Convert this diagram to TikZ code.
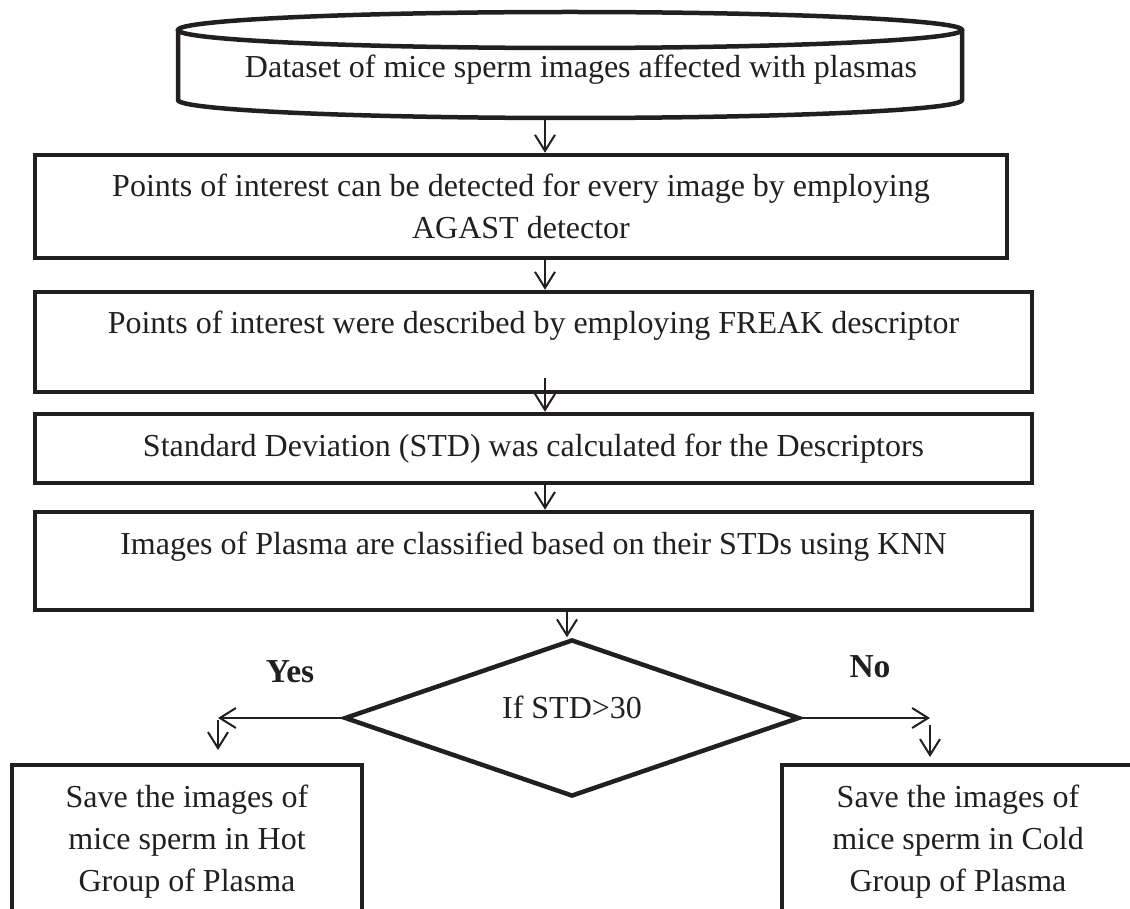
\documentclass[tikz,border=0pt]{standalone}
\usepackage{fontspec}
\setmainfont{Liberation Serif}
\usetikzlibrary{shapes.geometric, arrows.meta}
\definecolor{ink}{RGB}{35,31,32}
\tikzset{
	cyl/.style = {draw=ink, line width=4.5pt},
	box/.style = {draw=ink, line width=4.5pt, rectangle, inner sep=0pt, align=center, text=ink, font=\fontsize{32}{42}\selectfont},
	txt/.style = {inner sep=0pt, align=center, text=ink, font=\fontsize{32}{42}\selectfont},
	cond/.style = {draw=ink, line width=4.5pt, diamond, aspect=2.9, inner sep=0pt, text=ink, font=\fontsize{32}{42}\selectfont},
	lbl/.style = {inner sep=0pt, text=ink, font=\fontsize{33.5}{42}\selectfont\bfseries},
	flow/.style = {draw=ink, line width=2pt, -{Straight Barb[length=16pt, width=20pt]}}
}

\begin{document}
\begin{tikzpicture}[x=1pt, y=-1pt]
	\useasboundingbox (0,0) rectangle (1130,909);
	\clip (0,0) rectangle (1130,909);
	% ====== Dataset ========
	\pgfmathsetmacro{\cylx}{570}
	\pgfmathsetmacro{\cylrx}{392}
	\pgfmathsetmacro{\cylry}{18}
	\draw[cyl] (\cylx-\cylrx,30) -- (\cylx-\cylrx,100) arc[start angle=180, end angle=0, x radius=\cylrx, y radius=\cylry] -- (\cylx+\cylrx,30);
	\draw[cyl] (\cylx,30) ellipse[x radius=\cylrx, y radius=\cylry];
	\node[txt, minimum height=96] (data) at (581,70) {Dataset of mice sperm images affected with plasmas};

	% ====== Steps ========
	\node[box, minimum width=972, minimum height=103] (detect) at (521,206.5) {Points of interest can be detected for every image by employing\\ AGAST detector};
	\node[box, minimum width=997, minimum height=100, text height=25, text depth=41] (describe) at (533.5,342) {Points of interest were described by employing FREAK descriptor};
	\node[box, minimum width=997, minimum height=69] (std) at (533.5,448.5) {Standard Deviation (STD) was calculated for the Descriptors};
	\node[box, minimum width=997, minimum height=98, text height=25, text depth=39] (knn) at (533.5,561) {Images of Plasma are classified based on their STDs using KNN};

	% ====== Decision ========
	\node[cond, minimum width=455, minimum height=157, text height=20, text depth=20] (test) at (572,718) {If STD>30};
	\node[lbl] (yes) at (290,672) {Yes};
	\node[lbl] (no) at (870,667) {No};
	\node[box, minimum width=350, minimum height=154] (hot) at (187,842) {Save the images of\\ mice sperm in Hot\\ Group of Plasma};
	\node[box, minimum width=352, minimum height=154] (cold) at (958,842) {Save the images of\\ mice sperm in Cold\\ Group of Plasma};

	% ====== Arrows ========
	\coordinate (ax) at (545,0);
	\coordinate (bx) at (567,0);
	\draw[flow] (ax |- data.south) -- (ax |- detect.north);
	\draw[flow] (ax |- detect.south) -- (ax |- describe.north);
	\path (ax |- describe.south) ++(0,-16) coordinate (dstart);
	\draw[flow] (dstart) -- (ax |- std.north);
	\draw[flow] (ax |- std.south) -- (ax |- knn.north);
	\draw[flow] (bx |- knn.south) -- (bx |- test.north);

	\coordinate (yesend) at (218,718);
	\coordinate (yesdown) at (218,750);
	\coordinate (noend) at (930,718);
	\coordinate (nodown) at (930,757);
	\draw[flow] (test.west) -- (yesend);
	\draw[flow] (yesend) ++(0,2) -- (yesdown);
	\draw[flow] (test.east) -- (noend);
	\draw[flow] (noend) ++(0,7) -- (nodown);
\end{tikzpicture}
\end{document}
